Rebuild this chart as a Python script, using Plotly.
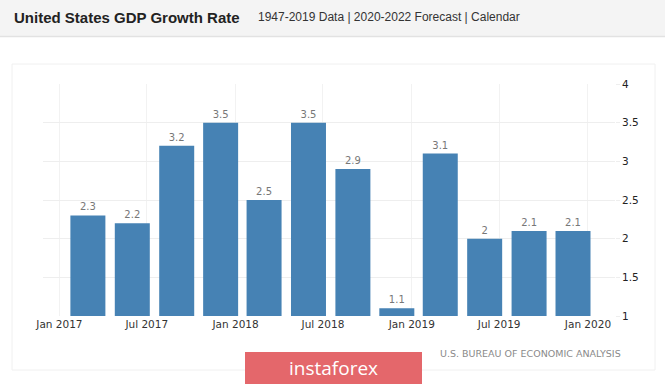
import plotly.graph_objects as go

# Data
quarters = ["2017-03-01", "2017-06-01", "2017-09-01", "2017-12-01",
            "2018-03-01", "2018-06-01", "2018-09-01", "2018-12-01",
            "2019-03-01", "2019-06-01", "2019-09-01", "2019-12-01"]
gdp_growth = [2.3, 2.2, 3.2, 3.5, 2.5, 3.5, 2.9, 1.1, 3.1, 2.0, 2.1, 2.1]
y_ticks = [1, 1.5, 2, 2.5, 3, 3.5, 4]
y_tick_labels = ["1", "1.5", "2", "2.5", "3", "3.5", "4"]

W, H = 665, 384
ML, MR, MT, MB = 43, 50, 84, 68
PW, PH = W - ML - MR, H - MT - MB


def px(x):
    return (x - ML) / PW


def py(y):
    return (H - MB - y) / PH


DAY = 86400000

fig = go.Figure()
fig.add_trace(go.Bar(
    x=quarters, y=gdp_growth,
    width=[72.5 * DAY] * len(quarters),
    marker=dict(color="#4682b4", line=dict(width=0)),
    text=[("%g" % v) for v in gdp_growth],
    textposition="outside",
    cliponaxis=False,
    textfont=dict(family="DejaVu Sans", size=10, color="#777777"),
    hoverinfo="x+y",
    base=0,
))

shapes = [
    # card
    dict(type="rect", xref="paper", yref="paper", x0=px(12), x1=px(655), y0=py(64), y1=py(370),
         line=dict(color="#f0f0f0", width=1), fillcolor="white", layer="below"),
    # header band
    dict(type="rect", xref="paper", yref="paper", x0=px(0), x1=px(665), y0=py(0), y1=py(36),
         line=dict(width=0), fillcolor="#f4f4f4", layer="below"),
    dict(type="line", xref="paper", yref="paper", x0=px(0), x1=px(665), y0=py(36.5), y1=py(36.5),
         line=dict(color="#e2e2e2", width=1.5), layer="below"),
    # logo
    dict(type="rect", xref="paper", yref="paper", x0=px(245), x1=px(422), y0=py(352), y1=py(384),
         line=dict(width=0), fillcolor="#e4676b", layer="above"),
]

annotations = [
    dict(text="<b>United States GDP Growth Rate</b>", xref="paper", yref="paper",
         x=px(12), y=py(17), xanchor="left", yanchor="middle", showarrow=False,
         font=dict(family="Liberation Sans", size=15, color="#222222")),
    dict(text="1947-2019 Data | 2020-2022 Forecast | Calendar", xref="paper", yref="paper",
         x=px(256), y=py(17), xanchor="left", yanchor="middle", showarrow=False,
         font=dict(family="Liberation Sans", size=12, color="#333333")),
    dict(text="U.S. BUREAU OF ECONOMIC ANALYSIS", xref="paper", yref="paper",
         x=px(623), y=py(353), xanchor="right", yanchor="middle", showarrow=False,
         font=dict(family="DejaVu Sans", size=9.5, color="#8a8a8a")),
    dict(text="instaforex", xref="paper", yref="paper",
         x=px(333), y=py(368), xanchor="center", yanchor="middle", showarrow=False,
         font=dict(family="Open Sans", size=19, color="white")),
]

fig.update_layout(
    width=W, height=H,
    margin=dict(l=ML, r=MR, t=MT, b=MB, pad=0),
    paper_bgcolor="white",
    plot_bgcolor="rgba(0,0,0,0)",
    showlegend=False,
    shapes=shapes,
    annotations=annotations,
    xaxis=dict(
        type="date",
        range=["2016-11-28", "2020-02-26"],
        tick0="2017-01-01", dtick="M6", tickformat="%b %Y",
        showgrid=True, gridcolor="#f2f2f2", gridwidth=1,
        showline=False, zeroline=False, ticks="",
        tickfont=dict(family="DejaVu Sans", size=10.5, color="#333333"),
    ),
    yaxis=dict(
        side="right",
        range=[1, 4],
        tickvals=y_ticks, ticktext=y_tick_labels,
        showgrid=True, gridcolor="#eeeeee", gridwidth=1,
        zeroline=False, showline=False,
        ticks="outside", ticklen=4, tickcolor="#eeeeee",
        tickfont=dict(family="DejaVu Sans", size=10.5, color="#222222"),
    ),
)

fig.write_html("out.html",
               config={"displayModeBar": False},
               post_script="document.body.style.margin='0';document.body.style.overflow='hidden';")
